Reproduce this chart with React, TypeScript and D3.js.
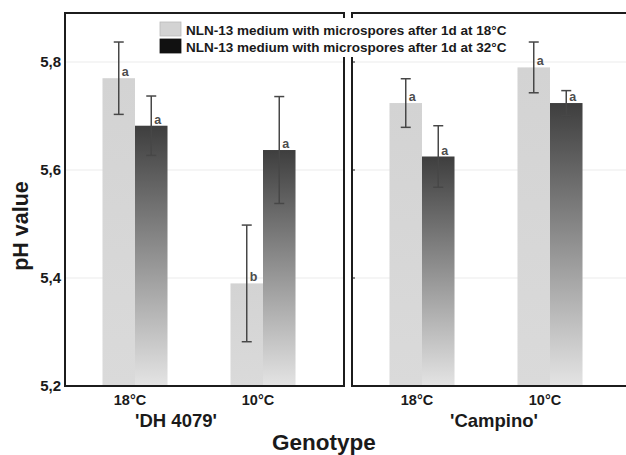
import React from "react";
import * as d3 from "d3";

// order of cells: DH 4079 18°C, DH 4079 10°C, Campino 18°C, Campino 10°C
const genotypes = ["'DH 4079'", "'Campino'"];
const temps = ["18°C", "10°C"];
const seriesNames = [
  "NLN-13 medium with microspores after 1d at 18°C",
  "NLN-13 medium with microspores after 1d at 32°C",
];
const means18 = [5.77, 5.39, 5.724, 5.79];
const means32 = [5.682, 5.637, 5.625, 5.724];
const err18 = [0.067, 0.108, 0.045, 0.047];
const err32 = [0.055, 0.099, 0.057, 0.023];
const letters18 = ["a", "b", "a", "a"];
const letters32 = ["a", "a", "a", "a"];
const yTicks = [5.2, 5.4, 5.6, 5.8];

const W = 626;
const H = 455;
const panelTop = 13;
const panelBottom = 386;
const panelLefts = [65, 352];
const panelWidth = 279;
const FONT = "Liberation Sans, Arial, sans-serif";

const commaFmt = d3
  .formatLocale({ decimal: ",", thousands: ".", grouping: [3], currency: ["", ""] })
  .format(".1f");

export default function App() {
  const y = d3.scaleLinear().domain([5.2, 5.8]).range([panelBottom, 62]);

  const tempScale = d3.scaleBand<string>().domain(temps).range([6, 262]);
  const barW = tempScale.bandwidth() * 0.254;
  const seriesScale = d3
    .scaleBand<string>()
    .domain(seriesNames)
    .range([-barW, barW]);

  const cells = genotypes.flatMap((g, gi) =>
    temps.map((t, ti) => {
      const idx = gi * temps.length + ti;
      const cx = panelLefts[gi] + (tempScale(t) ?? 0) + tempScale.bandwidth() / 2;
      return {
        g,
        t,
        gi,
        cx,
        bars: [
          { s: seriesNames[0], v: means18[idx], e: err18[idx], l: letters18[idx], dark: false },
          { s: seriesNames[1], v: means32[idx], e: err32[idx], l: letters32[idx], dark: true },
        ],
      };
    })
  );

  const genoLabelX = [panelLefts[0] + 111, panelLefts[1] + 142];

  return (
    <svg
      width={W}
      height={H}
      style={{ position: "absolute", left: 0, top: 0, background: "#fff" }}
      fontFamily={FONT}
    >
      <defs>
        <linearGradient id="darkGrad" x1="0" y1="0" x2="0" y2="1">
          <stop offset="0%" stopColor="#3e3e3e" />
          <stop offset="100%" stopColor="#e4e4e4" />
        </linearGradient>
        <linearGradient id="lightGrad" x1="0" y1="0" x2="0" y2="1">
          <stop offset="0%" stopColor="#d3d3d3" />
          <stop offset="100%" stopColor="#dadada" />
        </linearGradient>
      </defs>

      {/* gridlines */}
      {panelLefts.map((x0, pi) =>
        yTicks.slice(1).map((t) => (
          <line
            key={`g${pi}-${t}`}
            x1={x0}
            x2={x0 + panelWidth}
            y1={y(t)}
            y2={y(t)}
            stroke="#ececec"
            strokeWidth={1.2}
          />
        ))
      )}

      {/* bars */}
      {cells.map((c) =>
        c.bars.map((b) => {
          const bx = c.cx + (seriesScale(b.s) ?? 0);
          return (
            <rect
              key={`${c.g}${c.t}${b.s}`}
              x={bx}
              y={y(b.v)}
              width={seriesScale.bandwidth()}
              height={panelBottom - y(b.v)}
              fill={b.dark ? "url(#darkGrad)" : "url(#lightGrad)"}
            />
          );
        })
      )}

      {/* error bars + letters */}
      {cells.map((c) =>
        c.bars.map((b) => {
          const ex = c.cx + (seriesScale(b.s) ?? 0) + seriesScale.bandwidth() / 2;
          const y1 = y(b.v + b.e);
          const y2 = y(b.v - b.e);
          return (
            <g key={`e${c.g}${c.t}${b.s}`} stroke="#474747" strokeWidth={1.5}>
              <line x1={ex} x2={ex} y1={y1} y2={y2} />
              <line x1={ex - 5} x2={ex + 5} y1={y1} y2={y1} />
              <line x1={ex - 5} x2={ex + 5} y1={y2} y2={y2} />
              <text
                x={ex + 3}
                y={y(b.v) - 2}
                stroke="none"
                fill="#4d4d4d"
                fontSize={12.5}
                fontWeight="bold"
              >
                {b.l}
              </text>
            </g>
          );
        })
      )}

      {/* panel frames */}
      {panelLefts.map((x0) => (
        <rect
          key={`f${x0}`}
          x={x0}
          y={panelTop}
          width={panelWidth}
          height={panelBottom - panelTop}
          fill="none"
          stroke="#1c1c1c"
          strokeWidth={2}
        />
      ))}
      {/* small ticks on right panel */}
      {yTicks.slice(1).map((t) => (
        <line
          key={`rt${t}`}
          x1={panelLefts[1]}
          x2={panelLefts[1] + 3}
          y1={y(t)}
          y2={y(t)}
          stroke="#1c1c1c"
          strokeWidth={1}
        />
      ))}

      {/* y tick labels */}
      {yTicks.map((t) => (
        <text
          key={`yt${t}`}
          x={61}
          y={y(t) + 5}
          textAnchor="end"
          fontSize={15}
          fontWeight="bold"
          fill="#1a1a1a"
        >
          {commaFmt(t)}
        </text>
      ))}

      {/* x category labels */}
      {cells.map((c) => (
        <text
          key={`xl${c.g}${c.t}`}
          x={c.cx - 5}
          y={405}
          textAnchor="middle"
          fontSize={14.5}
          fontWeight="bold"
          fill="#1a1a1a"
        >
          {c.t}
        </text>
      ))}
      {genotypes.map((g, gi) => (
        <text
          key={`gl${g}`}
          x={genoLabelX[gi]}
          y={426.5}
          textAnchor="middle"
          fontSize={18.5}
          fontWeight="bold"
          fill="#1a1a1a"
        >
          {g}
        </text>
      ))}

      {/* axis titles */}
      <text
        x={324}
        y={450}
        textAnchor="middle"
        fontSize={22.5}
        fontWeight="bold"
        fill="#1a1a1a"
      >
        Genotype
      </text>
      <text
        transform={`translate(28 226) rotate(-90)`}
        textAnchor="middle"
        fontSize={21.5}
        fontWeight="bold"
        fill="#1a1a1a"
      >
        pH value
      </text>

      {/* legend */}
      <rect x={155} y={18} width={357} height={39} fill="#fff" />
      {seriesNames.map((s, i) => (
        <g key={`lg${i}`} transform={`translate(160 ${22 + i * 17})`}>
          <rect
            width={21}
            height={14}
            fill={i === 0 ? "#d3d3d3" : "#111"}
            stroke={i === 0 ? "#bbb" : "#111"}
            strokeWidth={0.8}
          />
          <text x={26} y={12.5} fontSize={13.5} fontWeight="bold" fill="#1a1a1a">
            {s}
          </text>
        </g>
      ))}
    </svg>
  );
}
